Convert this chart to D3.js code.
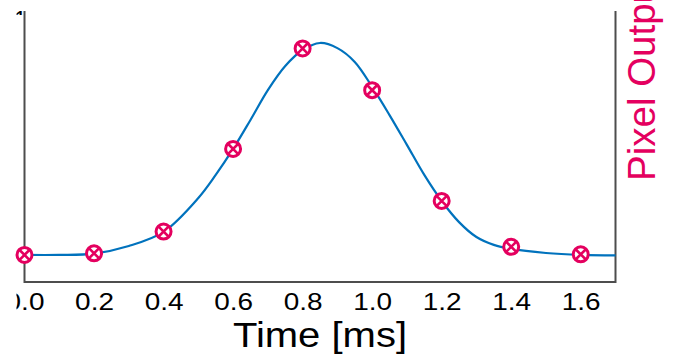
<!DOCTYPE html>
<html>
<head>
<meta charset="utf-8">
<script src="https://cdn.jsdelivr.net/npm/d3@7"></script>
<style>
  body { margin: 0; background: #fff; }
  svg { display: block; font-family: "Liberation Sans", Arial, sans-serif; }
</style>
</head>
<body>
<div id="chart"></div>
<script>
// measured samples (time in ms, normalized pixel output)
const sampleTimes = [0.0, 0.2, 0.4, 0.6, 0.8, 1.0, 1.2, 1.4, 1.6];
const sampleValues = [0.100, 0.106, 0.186, 0.491, 0.862, 0.708, 0.299, 0.130, 0.102];

// fitted curve
const fitTimes = [0.0, 0.1, 0.2, 0.3, 0.4, 0.5, 0.55, 0.6, 0.65, 0.7, 0.75, 0.8, 0.85, 0.9, 0.95,
                  1.0, 1.05, 1.1, 1.15, 1.2, 1.25, 1.3, 1.35, 1.4, 1.5, 1.6, 1.7];
const fitValues = [0.100, 0.100, 0.105, 0.133, 0.185, 0.310, 0.395, 0.491, 0.598, 0.708, 0.797, 0.856, 0.882, 0.863, 0.812,
                   0.720, 0.616, 0.506, 0.395, 0.299, 0.221, 0.166, 0.137, 0.122, 0.107, 0.100, 0.098];

const xTicks = [0.0, 0.2, 0.4, 0.6, 0.8, 1.0, 1.2, 1.4, 1.6];

(function() {
    const W = 677, H = 359;
    const plotLeft = 24.5, plotRight = 615.5, plotTop = 11, plotBottom = 282;
    const blue = '#0072bd';
    const pink = '#e4005f';
    const axisColor = '#4d4d4d';

    const svg = d3.select('#chart').append('svg')
        .attr('width', W)
        .attr('height', H);

    const defs = svg.append('defs');
    defs.append('clipPath').attr('id', 'leftclip')
        .append('rect').attr('x', 16.5).attr('y', 0).attr('width', W).attr('height', H);
    defs.append('clipPath').attr('id', 'topclip')
        .append('rect').attr('x', 16.5).attr('y', 0).attr('width', 20).attr('height', 15);

    const x = d3.scaleLinear().domain([0, 1.7]).range([plotLeft, plotRight]);
    const y = d3.scaleLinear().domain([0, 1]).range([plotBottom, plotTop]);

    // bottom axis with inward ticks
    const xAxis = d3.axisBottom(x)
        .tickValues(xTicks)
        .tickFormat(d3.format('.1f'))
        .tickSizeInner(-5)
        .tickSizeOuter(0);

    const gx = svg.append('g')
        .attr('transform', `translate(0, ${plotBottom})`)
        .attr('clip-path', 'url(#leftclip)')
        .call(xAxis);
    gx.select('.domain').remove();
    gx.selectAll('.tick line').attr('stroke', axisColor).attr('stroke-width', 1.2);
    gx.selectAll('.tick text')
        .attr('fill', '#000')
        .attr('dy', null)
        .attr('y', null)
        .attr('transform', 'translate(0, 28) scale(1.2, 1)')
        .style('font-size', '23.3px')
        .style('font-family', '"Liberation Sans", Arial, sans-serif');

    // spines
    svg.append('path')
        .attr('d', `M${plotLeft},${plotTop}V${plotBottom}H${plotRight}V${plotTop}`)
        .attr('fill', 'none')
        .attr('stroke', axisColor)
        .attr('stroke-width', 2);

    // clipped tick label peeking in at the top left
    svg.append('text')
        .attr('clip-path', 'url(#topclip)')
        .attr('x', 13.7)
        .attr('y', 27.5)
        .style('font-size', '23.3px')
        .attr('fill', '#000')
        .text('1');

    // fitted curve
    const line = d3.line()
        .x((d, i) => x(fitTimes[i]))
        .y(d => y(d))
        .curve(d3.curveCatmullRom);

    svg.append('path')
        .datum(fitValues)
        .attr('d', line)
        .attr('fill', 'none')
        .attr('stroke', blue)
        .attr('stroke-width', 2.2);

    // circled-x markers
    const r = 7.5;
    const markers = svg.selectAll('g.marker')
        .data(sampleValues)
        .enter().append('g')
        .attr('class', 'marker')
        .attr('transform', (d, i) => `translate(${x(sampleTimes[i])}, ${y(d)})`);

    markers.append('circle')
        .attr('r', r)
        .attr('fill', '#fff')
        .attr('stroke', pink)
        .attr('stroke-width', 3);

    const a = r * 0.72;
    markers.append('path')
        .attr('d', `M${-a},${-a}L${a},${a}M${-a},${a}L${a},${-a}`)
        .attr('stroke', pink)
        .attr('stroke-width', 2.6);

    // axis titles
    svg.append('text')
        .attr('transform', `translate(${(plotLeft + plotRight) / 2}, 347.3) scale(1.16, 1)`)
        .attr('text-anchor', 'middle')
        .style('font-size', '34.5px')
        .attr('fill', '#000')
        .text('Time [ms]');

    svg.append('text')
        .attr('transform', 'translate(655, 181) rotate(-90)')
        .style('font-size', '38.5px')
        .attr('fill', pink)
        .text('Pixel Output');
})();
</script>
</body>
</html>
